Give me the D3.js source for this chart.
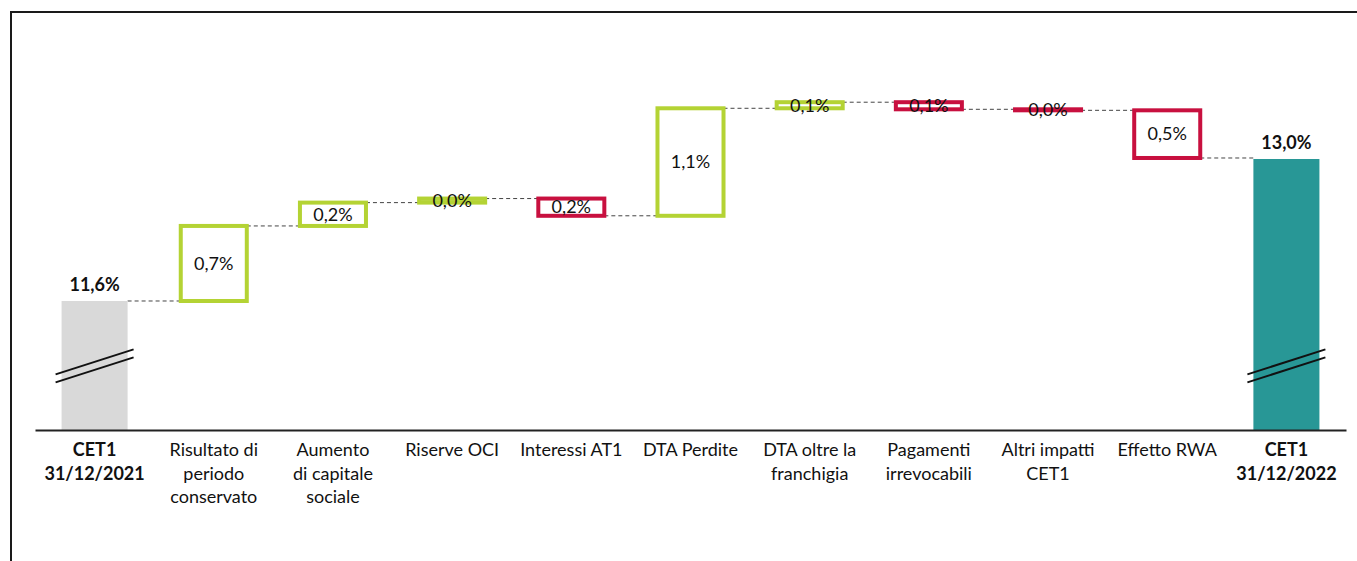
<!DOCTYPE html>
<html>
<head>
<meta charset="utf-8">
<script src="https://cdn.jsdelivr.net/npm/d3@7"></script>
<style>
  body { margin: 0; background: #fff; }
  svg { display: block; font-family: Lato, "DejaVu Sans", sans-serif; }
</style>
</head>
<body>
<div id="chart"></div>
<script>
// categories (one entry per line of the label)
var categories = [
    ["CET1", "31/12/2021"],
    ["Risultato di", "periodo", "conservato"],
    ["Aumento", "di capitale", "sociale"],
    ["Riserve OCI"],
    ["Interessi AT1"],
    ["DTA Perdite"],
    ["DTA oltre la", "franchigia"],
    ["Pagamenti", "irrevocabili"],
    ["Altri impatti", "CET1"],
    ["Effetto RWA"],
    ["CET1", "31/12/2022"]
];
var startValue = 11.6;   // CET1 ratio 2021, %
var deltas = [0.74, 0.23, 0.04, -0.17, 1.06, 0.06, -0.07, -0.01, -0.47];   // % points
var endValue = 13.0;     // CET1 ratio 2022, %

var width = 1357, height = 561;
var green = "#b4d334", red = "#c8103f", grey = "#d9d9d9", teal = "#289796";

var fmt = function (v) { return d3.format(".1f")(Math.abs(v)).replace(".", ",") + "%"; };

// build the waterfall steps
var steps = [];
var level = startValue;
steps.push({type: "total", from: 0, to: startValue, color: grey, value: startValue});
deltas.forEach(function (d) {
    steps.push({type: "delta", from: level, to: level + d, color: d >= 0 ? green : red, value: d});
    level = level + d;
});
steps.push({type: "total", from: 0, to: endValue, color: teal, value: endValue});

var svg = d3.select("#chart").append("svg")
    .attr("width", width)
    .attr("height", height);

// frame (top and left edges)
svg.append("path")
    .attr("d", "M11,561V12H1357")
    .attr("fill", "none")
    .attr("stroke", "#1a1a1a")
    .attr("stroke-width", 2);

var x = d3.scaleBand()
    .domain(d3.range(categories.length))
    .range([35, 1346])
    .paddingInner(0.446)
    .paddingOuter(0.223);

// broken axis: the bottom does not start at zero
var y = d3.scaleLinear()
    .domain([10.328, 13.0])
    .range([430, 159]);

var bw = x.bandwidth();
var baseY = y.range()[0];

// dashed connectors
var conn = svg.append("g");
for (var i = 0; i < steps.length - 1; i++) {
    conn.append("line")
        .attr("x1", x(i) + bw)
        .attr("x2", x(i + 1))
        .attr("y1", y(steps[i].to))
        .attr("y2", y(steps[i].to))
        .attr("stroke", "#444")
        .attr("stroke-width", 1)
        .attr("stroke-dasharray", "4,3");
}

// bars
svg.append("g").selectAll("rect")
    .data(steps)
    .enter().append("rect")
    .attr("x", function (d, i) { return x(i); })
    .attr("width", bw)
    .attr("y", function (d) { return d.type === "total" ? y(d.to) : y(Math.max(d.from, d.to)); })
    .attr("height", function (d) {
        if (d.type === "total") return baseY - y(d.to);
        return Math.abs(y(d.from) - y(d.to));
    })
    .attr("fill", function (d) { return d.type === "total" ? d.color : "#fff"; })
    .attr("stroke", function (d) { return d.type === "total" ? "none" : d.color; })
    .attr("stroke-width", 4);

// break marks on the total bars
var breakAt = 10.96;
[0, steps.length - 1].forEach(function (i) {
    var cx = x(i) + bw / 2;
    [-4, 4].forEach(function (off) {
        svg.append("line")
            .attr("x1", cx - 39)
            .attr("x2", cx + 39)
            .attr("y1", y(breakAt) + off + 12.5)
            .attr("y2", y(breakAt) + off - 12.5)
            .attr("stroke", "#111")
            .attr("stroke-width", 2);
    });
});

// value labels
svg.append("g").selectAll("text")
    .data(steps)
    .enter().append("text")
    .attr("x", function (d, i) { return x(i) + bw / 2; })
    .attr("y", function (d) {
        if (d.type === "total") return y(d.to) - 10;
        return (y(d.from) + y(d.to)) / 2;
    })
    .attr("dy", function (d) { return d.type === "total" ? 0 : "0.35em"; })
    .attr("text-anchor", "middle")
    .attr("font-size", 18)
    .attr("font-weight", function (d) { return d.type === "total" ? "bold" : "normal"; })
    .attr("fill", "#111")
    .text(function (d) { return fmt(d.value); });

// x axis with multi-line labels
var axis = svg.append("g")
    .attr("transform", "translate(0," + baseY + ")")
    .call(d3.axisBottom(x).tickSize(0).tickSizeOuter(0));

axis.select(".domain")
    .attr("stroke", "#222")
    .attr("stroke-width", 2);

axis.selectAll(".tick text").each(function (i) {
    var t = d3.select(this);
    t.text(null)
        .attr("y", 0)
        .attr("dy", null)
        .attr("font-family", "Lato, sans-serif")
        .attr("font-size", 18)
        .attr("fill", "#111")
        .attr("font-weight", (i === 0 || i === categories.length - 1) ? "bold" : "normal");
    categories[i].forEach(function (line, k) {
        t.append("tspan")
            .attr("x", 0)
            .attr("y", 26 + k * 23.5)
            .text(line);
    });
});
</script>
</body>
</html>
